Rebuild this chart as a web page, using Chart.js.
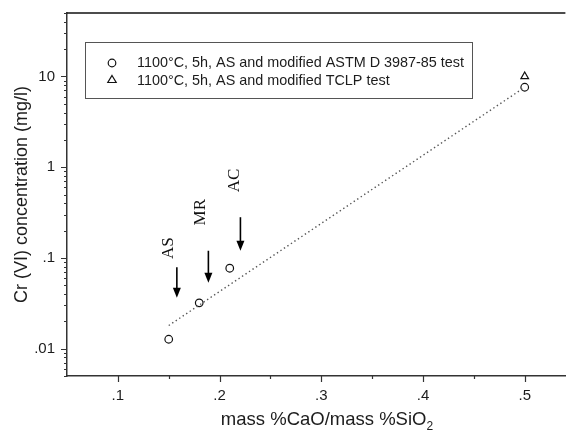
<!DOCTYPE html>
<html>
<head>
<meta charset="utf-8">
<title>Cr (VI) leaching vs basicity</title>
<script src="https://cdn.jsdelivr.net/npm/chart.js@4.4.0/dist/chart.umd.min.js"></script>
<style>
  html, body { margin: 0; padding: 0; background: #fff; overflow: hidden; }
  canvas { display: block; }
</style>
</head>
<body>
<canvas id="crChart" width="571" height="433"></canvas>
<script>
// mass %CaO / mass %SiO2 of the sintered samples and leached Cr(VI), mg/l
const ratio = [0.15, 0.18, 0.21, 0.50];
const astmCr = [0.0127, 0.032, 0.077, 7.6];
const tclpRatio = [0.50];
const tclpCr = [10];

// dotted trend line end points
const fitRatio = [0.15, 0.50];
const fitCr = [0.018, 7.6];

// arrows marking the raw materials
const arrowLabels = ['AS', 'MR', 'AC'];
const arrowX = [0.158, 0.189, 0.2205];
const arrowFrom = [0.079, 0.12, 0.281];
const arrowTo = [0.0364, 0.0533, 0.12];
const labelX = [0.1495, 0.1816, 0.2146];
const labelY = [0.128, 0.319, 0.714];

const seriesLabels = [
  '1100\u00b0C, 5h, AS and modified ASTM D 3987-85 test',
  '1100\u00b0C, 5h, AS and modified TCLP test'
];

const xMajor = [0.1, 0.2, 0.3, 0.4, 0.5];
const xTickLabels = ['.1', '.2', '.3', '.4', '.5'];
const xMinor = [0.15, 0.25, 0.35, 0.45];
const yMajor = [0.01, 0.1, 1, 10];
const yTickLabels = ['.01', '.1', '1', '10'];

const INK = '#1c1c1c';
const SANS = "'Liberation Sans', Arial, sans-serif";

const yMinor = [];
[0.001, 0.01, 0.1, 1, 10].forEach(d => {
  for (let k = 2; k <= 9; k++) {
    const v = +(d * k).toPrecision(3);
    if (v >= 0.005 && v <= 50) yMinor.push(v);
  }
});

const near = (a, b) => Math.abs(a - b) < 1e-9 * Math.max(1, Math.abs(b));
const majorIndex = (list, v) => list.findIndex(m => near(m, v));

// small outward tick marks, long for labelled ticks
const tickMarks = {
  id: 'tickMarks',
  afterDraw(chart) {
    const ctx = chart.ctx;
    const xs = chart.scales.x, ys = chart.scales.y;
    ctx.save();
    ctx.strokeStyle = '#333';
    ctx.lineWidth = 1.2;
    ctx.beginPath();
    xs.ticks.forEach(t => {
      const px = Math.round(xs.getPixelForValue(t.value)) + 0.5;
      const len = majorIndex(xMajor, t.value) >= 0 ? 6 : 3;
      ctx.moveTo(px, xs.top);
      ctx.lineTo(px, xs.top + len);
    });
    ys.ticks.forEach(t => {
      const py = Math.round(ys.getPixelForValue(t.value)) + 0.5;
      const len = majorIndex(yMajor, t.value) >= 0 ? 6 : 3;
      ctx.moveTo(ys.right, py);
      ctx.lineTo(ys.right - len, py);
    });
    ctx.stroke();
    // top frame line
    ctx.strokeStyle = '#111';
    ctx.lineWidth = 1.5;
    ctx.beginPath();
    ctx.moveTo(chart.chartArea.left, chart.chartArea.top);
    ctx.lineTo(chart.chartArea.right, chart.chartArea.top);
    ctx.stroke();
    ctx.restore();
  }
};

// AS / MR / AC arrows with their rotated labels
const arrows = {
  id: 'arrows',
  afterDatasetsDraw(chart) {
    const ctx = chart.ctx;
    const xs = chart.scales.x, ys = chart.scales.y;
    ctx.save();
    ctx.strokeStyle = '#000';
    ctx.fillStyle = '#000';
    ctx.lineWidth = 1.6;
    arrowX.forEach((xv, i) => {
      const x = xs.getPixelForValue(xv);
      const y1 = ys.getPixelForValue(arrowFrom[i]);
      const y2 = ys.getPixelForValue(arrowTo[i]);
      const head = 10;
      ctx.beginPath();
      ctx.moveTo(x, y1);
      ctx.lineTo(x, y2 - head + 1);
      ctx.stroke();
      ctx.beginPath();
      ctx.moveTo(x - 4, y2 - head);
      ctx.lineTo(x + 4, y2 - head);
      ctx.lineTo(x, y2);
      ctx.closePath();
      ctx.fill();
    });
    ctx.font = "17px 'Liberation Serif', 'Times New Roman', serif";
    ctx.fillStyle = '#111';
    ctx.textAlign = 'center';
    ctx.textBaseline = 'middle';
    arrowLabels.forEach((txt, i) => {
      ctx.save();
      ctx.translate(xs.getPixelForValue(labelX[i]), ys.getPixelForValue(labelY[i]));
      ctx.rotate(-Math.PI / 2);
      ctx.fillText(txt, 0, 0);
      ctx.restore();
    });
    ctx.restore();
  }
};

// boxed legend inside the plot and the x title with subscript
const boxLegend = {
  id: 'boxLegend',
  afterDraw(chart) {
    const ctx = chart.ctx;
    ctx.save();
    ctx.strokeStyle = '#555';
    ctx.lineWidth = 1;
    ctx.strokeRect(85.5, 42.5, 387, 56);

    ctx.strokeStyle = '#111';
    ctx.lineWidth = 1.2;
    ctx.beginPath();
    ctx.arc(112, 63, 3.8, 0, Math.PI * 2);
    ctx.stroke();
    ctx.beginPath();
    ctx.moveTo(112, 75.5);
    ctx.lineTo(116.2, 82.5);
    ctx.lineTo(107.8, 82.5);
    ctx.closePath();
    ctx.stroke();

    ctx.fillStyle = INK;
    ctx.font = '14.4px ' + SANS;
    ctx.textBaseline = 'middle';
    ctx.textAlign = 'left';
    ctx.fillText(seriesLabels[0], 137, 63);
    ctx.fillText(seriesLabels[1], 137, 81);

    const main = 'mass %CaO/mass %SiO';
    ctx.font = '18.5px ' + SANS;
    const w1 = ctx.measureText(main).width;
    ctx.font = '12px ' + SANS;
    const w2 = ctx.measureText('2').width;
    const x0 = 327 - (w1 + w2) / 2;
    ctx.textBaseline = 'alphabetic';
    ctx.font = '18.5px ' + SANS;
    ctx.fillText(main, x0, 425);
    ctx.font = '12px ' + SANS;
    ctx.fillText('2', x0 + w1, 430);
    ctx.restore();
  }
};

const circleStyle = {
  pointStyle: 'circle',
  pointRadius: 3.8,
  pointBorderWidth: 1.2,
  pointBorderColor: '#111',
  pointBackgroundColor: '#fff'
};

const crChart = new Chart(document.getElementById('crChart'), {
  type: 'scatter',
  data: {
    datasets: [{
      label: 'fit',
      data: fitRatio.map((x, i) => ({ x: x, y: fitCr[i] })),
      showLine: true,
      borderColor: '#555',
      borderWidth: 1.4,
      borderDash: [1.4, 2.8],
      pointRadius: 0
    }, Object.assign({
      label: seriesLabels[0],
      data: ratio.map((x, i) => ({ x: x, y: astmCr[i] }))
    }, circleStyle), Object.assign({
      label: seriesLabels[1],
      data: tclpRatio.map((x, i) => ({ x: x, y: tclpCr[i] }))
    }, circleStyle, { pointStyle: 'triangle', pointRadius: 4.4 })]
  },
  options: {
    responsive: false,
    animation: false,
    devicePixelRatio: 1,
    layout: { padding: { top: 13, right: 0, bottom: 0, left: 0 } },
    plugins: {
      legend: { display: false },
      tooltip: { enabled: false }
    },
    scales: {
      x: {
        type: 'linear',
        min: 0.05,
        max: 0.54,
        afterBuildTicks: s => { s.ticks = xMajor.concat(xMinor).sort((a, b) => a - b).map(v => ({ value: v })); },
        afterFit: s => { s.height = 57; s.paddingLeft = 0; s.paddingRight = 0; },
        grid: { display: false, drawTicks: false },
        border: { display: true, color: '#333', width: 1.5 },
        ticks: {
          autoSkip: false,
          maxRotation: 0,
          padding: 11,
          color: INK,
          font: { family: SANS, size: 15 },
          callback: v => { const i = majorIndex(xMajor, v); return i >= 0 ? xTickLabels[i] : ''; }
        }
      },
      y: {
        type: 'logarithmic',
        min: 0.005,
        max: 50,
        afterBuildTicks: s => { s.ticks = yMajor.concat(yMinor).sort((a, b) => a - b).map(v => ({ value: v })); },
        afterFit: s => { s.width = 67; s.paddingTop = 0; s.paddingBottom = 0; },
        grid: { display: false, drawTicks: false },
        border: { display: true, color: '#333', width: 1.5 },
        ticks: {
          autoSkip: false,
          padding: 12,
          color: INK,
          font: { family: SANS, size: 15 },
          callback: v => { const i = majorIndex(yMajor, v); return i >= 0 ? yTickLabels[i] : ''; }
        },
        title: {
          display: true,
          text: 'Cr (VI) concentration (mg/l)',
          color: INK,
          font: { family: SANS, size: 18 },
          padding: { top: 11, bottom: 0 }
        }
      }
    }
  },
  plugins: [tickMarks, arrows, boxLegend]
});
</script>
</body>
</html>
